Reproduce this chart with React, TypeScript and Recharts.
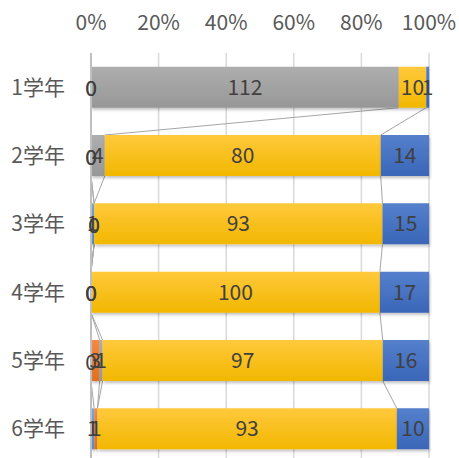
import React from 'react';
import * as R from 'recharts';
import { BarChart, Bar, XAxis, YAxis, CartesianGrid, LabelList } from 'recharts';

// categories
const grades = ['1学年', '2学年', '3学年', '4学年', '5学年', '6学年'];

// series values (left to right in each bar); null = blank cell
const lightBlue = [0, 0, 1, 0, 0, 1];
const orange = [0, 0, 0, 0, 3, 1];
const gray = [112, 4, 0, 0, 1, null];
const yellow = [10, 80, 93, 100, 97, 93];
const blue = [1, 14, 15, 17, 16, 10];

const pctTicks = [0, 0.2, 0.4, 0.6, 0.8, 1];

const seriesKeys = ['s1', 's2', 's3', 's4', 's5'];
const seriesValues: (number | null)[][] = [lightBlue, orange, gray, yellow, blue];

const data = grades.map((g, i) => ({
  grade: g,
  s1: lightBlue[i],
  s2: orange[i],
  s3: gray[i],
  s4: yellow[i],
  s5: blue[i],
}));

const FONT = "'Noto Sans CJK JP', 'Noto Sans', sans-serif";
const FS = 21;
const CAT_GAP = 0.2;

function usePlot() {
  const hook = (R as any).usePlotArea;
  return hook ? hook() : null;
}

const totals = grades.map((_, i) => seriesValues.reduce((s, arr) => s + (arr[i] ?? 0), 0));

// Excel-style series lines between consecutive bars
function SeriesLines() {
  const plot = usePlot();
  if (!plot) return null;
  const band = plot.height / grades.length;
  const gap = band * CAT_GAP;
  const lines: React.ReactNode[] = [];
  for (let i = 0; i < grades.length - 1; i++) {
    let cumA = 0;
    let cumB = 0;
    for (let k = 0; k < seriesValues.length - 1; k++) {
      cumA += seriesValues[k][i] ?? 0;
      cumB += seriesValues[k][i + 1] ?? 0;
      const x1 = plot.x + (cumA / totals[i]) * plot.width;
      const x2 = plot.x + (cumB / totals[i + 1]) * plot.width;
      const y1 = plot.y + (i + 1) * band - gap;
      const y2 = plot.y + (i + 1) * band + gap;
      lines.push(
        <line key={`${i}-${k}`} x1={x1} y1={y1} x2={x2} y2={y2} stroke="#A6A6A6" strokeWidth={1} />
      );
    }
  }
  return <g>{lines}</g>;
}

// labels for zero-valued segments (Recharts skips zero-width bars)
function ZeroLabelsInner() {
  const plot = usePlot();
  if (!plot) return null;
  const band = plot.height / grades.length;
  const out: React.ReactNode[] = [];
  grades.forEach((_, i) => {
    let cum = 0;
    seriesValues.forEach((arr, k) => {
      const v = arr[i];
      if (v === 0) {
        const x = plot.x + (cum / totals[i]) * plot.width;
        const y = plot.y + (i + 0.5) * band;
        out.push(
          <text
            key={`${i}-${k}`}
            x={x}
            y={y}
            textAnchor="middle"
            dominantBaseline="central"
            fill="#404040"
            fontSize={FS}
            fontFamily={FONT}
          >
            0
          </text>
        );
      }
      cum += v ?? 0;
    });
  });
  return <g>{out}</g>;
}

function ZeroLabels() {
  const Z = (R as any).ZIndexLayer;
  if (Z) {
    return (
      <Z zIndex={2000}>
        <ZeroLabelsInner />
      </Z>
    );
  }
  return <ZeroLabelsInner />;
}

const fills = ['url(#gLightBlue)', 'url(#gOrange)', 'url(#gGray)', 'url(#gYellow)', 'url(#gBlue)'];

export default function App() {
  return (
    <div
      style={{
        position: 'absolute',
        left: 0,
        top: 0,
        width: 459,
        height: 458,
        overflow: 'hidden',
        background: '#fff',
        fontFamily: FONT,
      }}
    >
      <BarChart
        width={459}
        height={463}
        data={data}
        layout="vertical"
        stackOffset="expand"
        barCategoryGap={`${CAT_GAP * 100}%`}
        margin={{ top: 23, right: 30, bottom: 0, left: 0 }}
      >
        <defs>
          <linearGradient id="gGray" x1="0" y1="0" x2="0" y2="1">
            <stop offset="0%" stopColor="#AEAEAE" />
            <stop offset="100%" stopColor="#979797" />
          </linearGradient>
          <linearGradient id="gYellow" x1="0" y1="0" x2="0" y2="1">
            <stop offset="0%" stopColor="#FFC93C" />
            <stop offset="100%" stopColor="#F2B700" />
          </linearGradient>
          <linearGradient id="gBlue" x1="0" y1="0" x2="0" y2="1">
            <stop offset="0%" stopColor="#5580CC" />
            <stop offset="100%" stopColor="#3A66B8" />
          </linearGradient>
          <linearGradient id="gOrange" x1="0" y1="0" x2="0" y2="1">
            <stop offset="0%" stopColor="#F28A44" />
            <stop offset="100%" stopColor="#E07020" />
          </linearGradient>
          <linearGradient id="gLightBlue" x1="0" y1="0" x2="0" y2="1">
            <stop offset="0%" stopColor="#6FA8DC" />
            <stop offset="100%" stopColor="#4F8FCC" />
          </linearGradient>
          <filter id="shadow" x="-5%" y="-20%" width="110%" height="160%">
            <feDropShadow dx="1" dy="2" stdDeviation="1.5" floodColor="#000" floodOpacity="0.25" />
          </filter>
        </defs>
        <CartesianGrid horizontal={false} stroke="#D9D9D9" strokeWidth={1.5} />
        <XAxis
          type="number"
          orientation="top"
          domain={[0, 1]}
          ticks={pctTicks}
          tickFormatter={(v: number) => `${Math.round(v * 100)}%`}
          axisLine={false}
          tickLine={false}
          tickSize={0}
          tickMargin={23}
          height={30}
          tick={{ fill: '#595959', fontSize: FS, fontFamily: FONT }}
          interval={0}
        />
        <YAxis
          type="category"
          dataKey="grade"
          width={91}
          axisLine={{ stroke: '#BFBFBF', strokeWidth: 2 }}
          tickLine={false}
          tickSize={0}
          tickMargin={26}
          tick={{ fill: '#595959', fontSize: FS, fontFamily: FONT }}
        />
        <SeriesLines />
        {seriesKeys.map((key, k) => (
          <Bar
            key={key}
            dataKey={key}
            stackId="a"
            fill={fills[k]}
            isAnimationActive={false}
            style={{ filter: 'url(#shadow)' }}
          >
            <LabelList
              dataKey={key}
              position="center"
              fill="#404040"
              fontSize={FS}
              fontFamily={FONT}
            />
          </Bar>
        ))}
        <ZeroLabels />
      </BarChart>
    </div>
  );
}
